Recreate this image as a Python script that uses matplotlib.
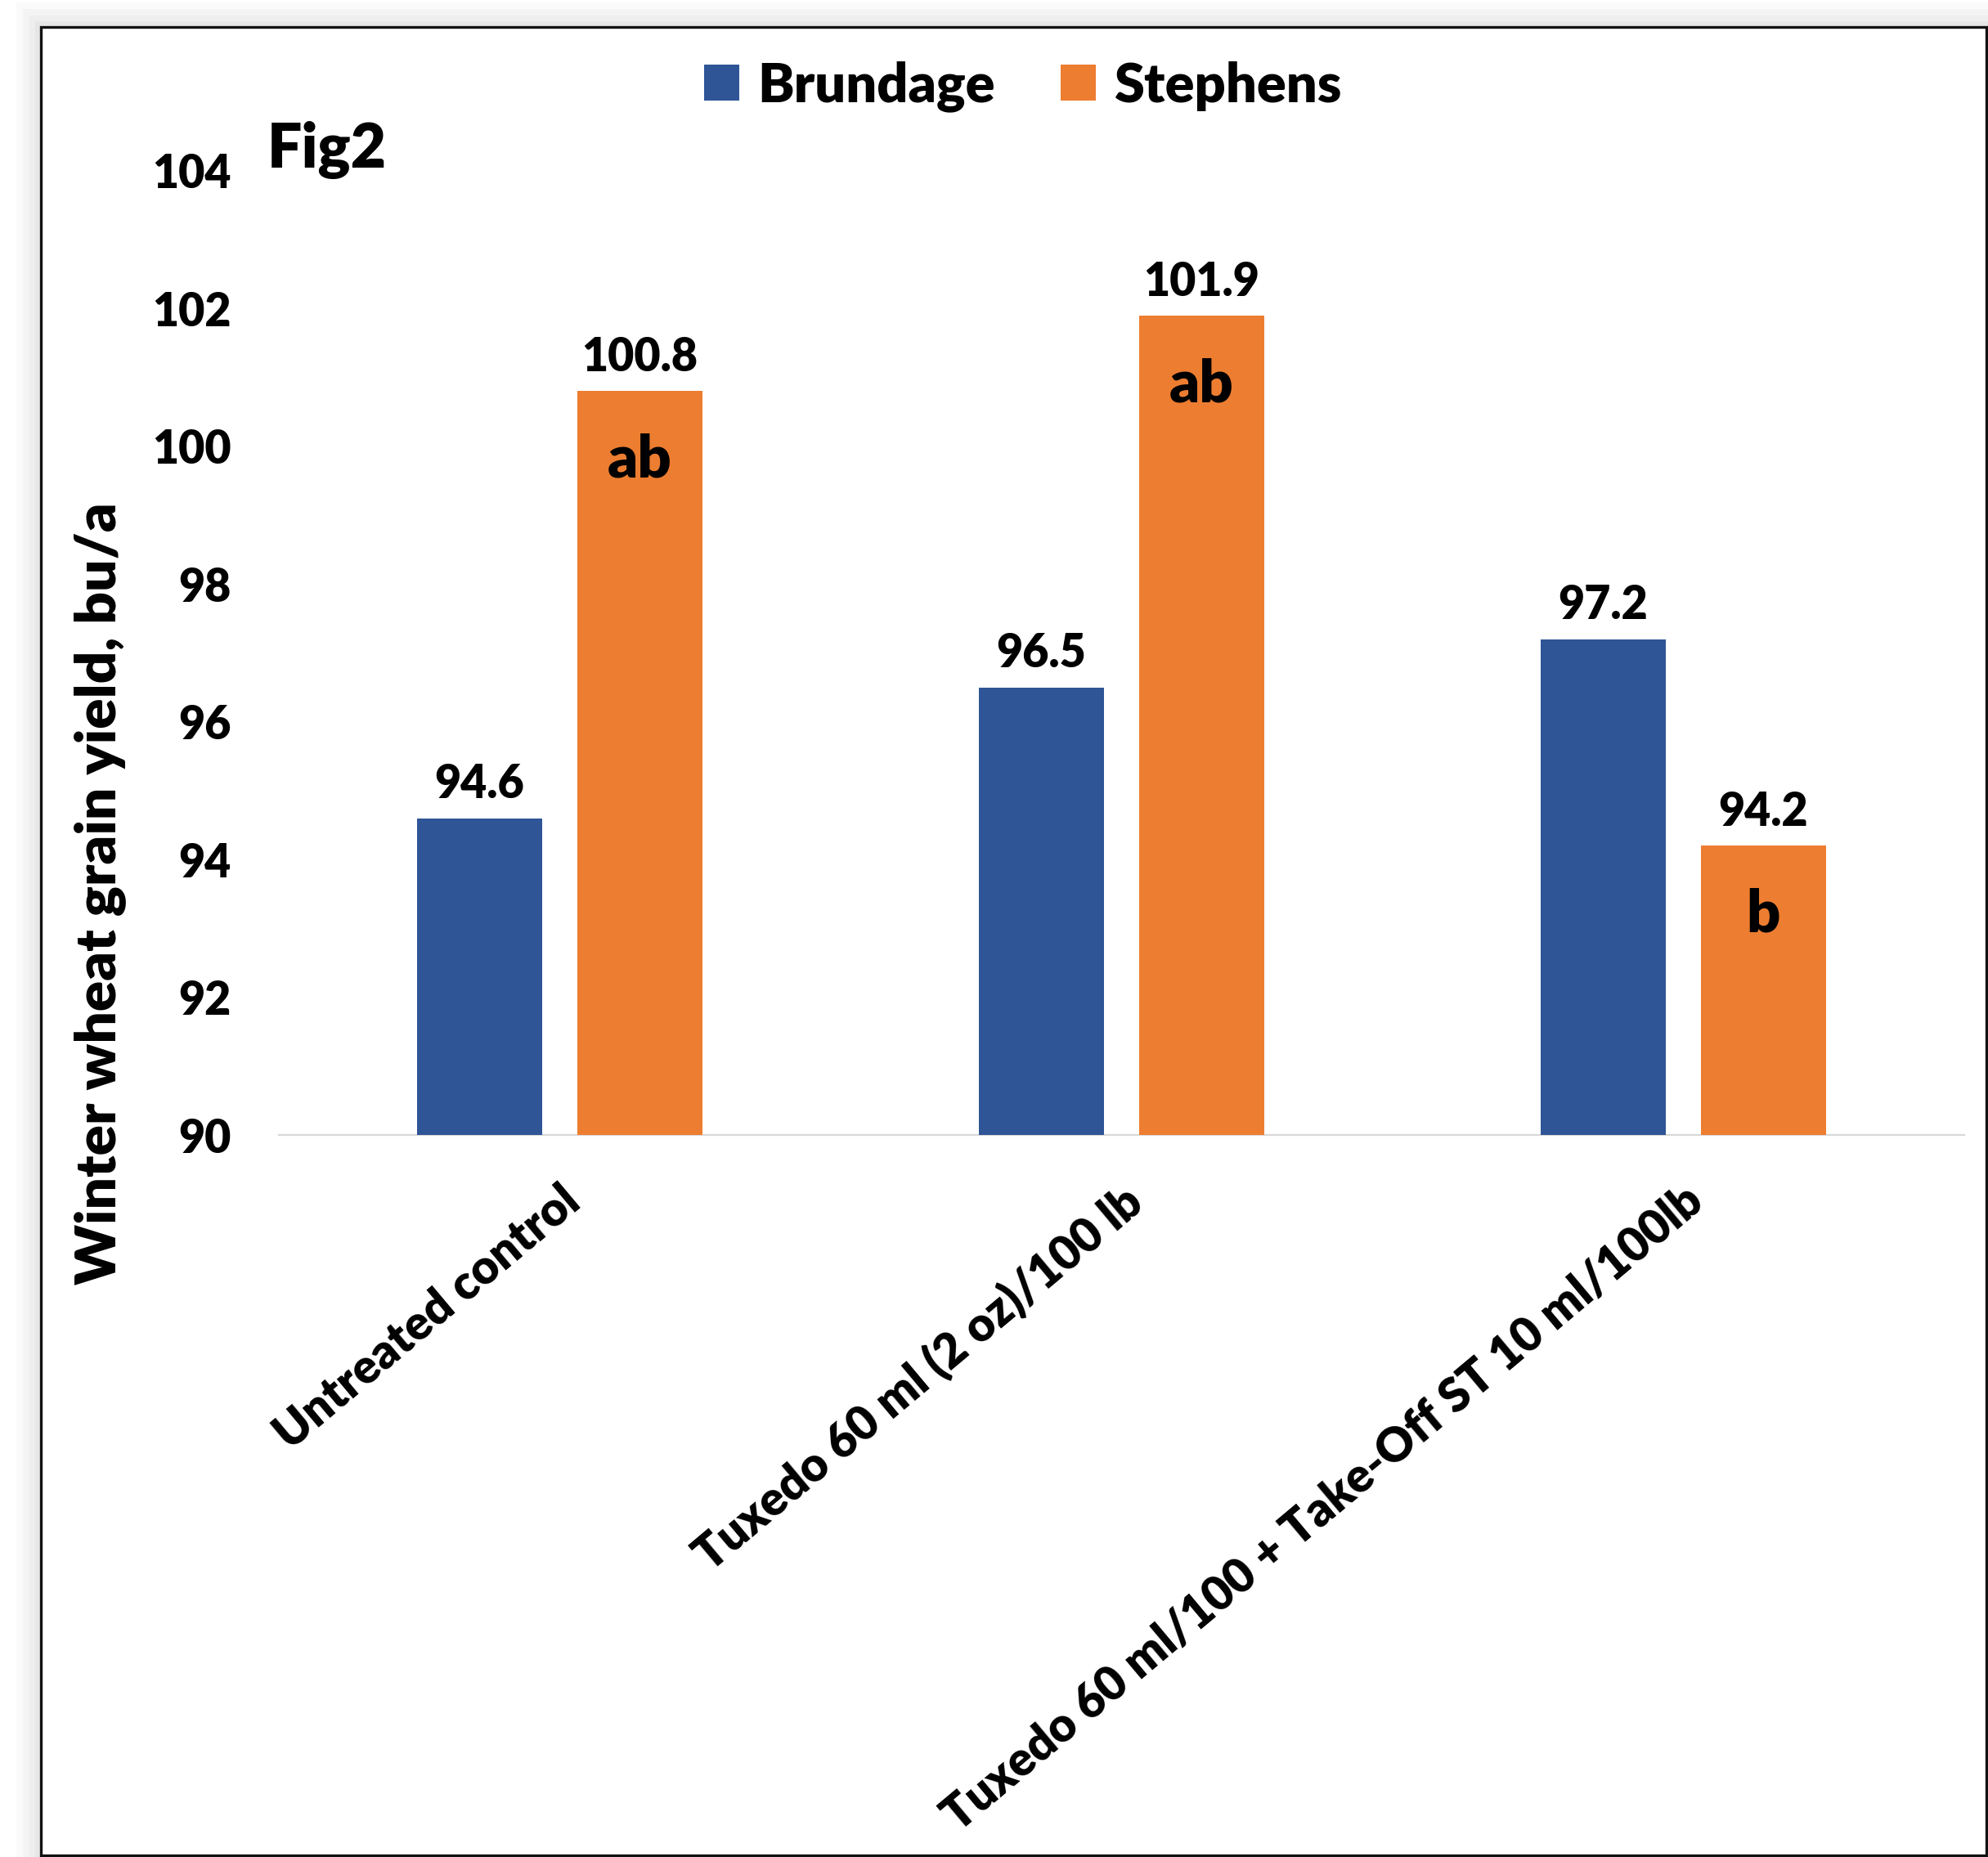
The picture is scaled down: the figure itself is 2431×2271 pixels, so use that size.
import matplotlib
matplotlib.use("Agg")
import matplotlib.pyplot as plt
from matplotlib.patches import Rectangle, Patch
from matplotlib.transforms import ScaledTranslation
import numpy as np

categories = ["Untreated control", "Tuxedo 60 ml (2 oz)/100 lb",
              "Tuxedo 60 ml/100 + Take-Off ST 10 ml/100lb"]
series_names = ["Brundage", "Stephens"]
brundage = [94.6, 96.5, 97.2]
stephens = [100.8, 101.9, 94.2]
stephens_letters = ["ab", "ab", "b"]
yticks = [90, 92, 94, 96, 98, 100, 102, 104]

BLUE = "#2F5597"
ORANGE = "#ED7D31"
FONT = "Lato"
WT = "heavy"

W, H = 2431, 2271
fig = plt.figure(figsize=(W / 100, H / 100), dpi=100)
fig.patch.set_facecolor("white")

def fx(px):
    return px / W

def fy(py):
    return 1 - py / H

# shadow + outer border
for d, c in [(30, "#fafafa"), (22, "#f4f4f4"), (14, "#eeeeee"), (7, "#e6e6e6")]:
    fig.patches.append(Rectangle((fx(50 - d), fy(2300)), fx(2431 + 40 - 50 + d), fy(33 - d) - fy(2300),
                                 transform=fig.transFigure, facecolor=c, edgecolor="none", zorder=0))
fig.patches.append(Rectangle((fx(50), fy(2269)), fx(2429) - fx(50), fy(33) - fy(2269),
                             transform=fig.transFigure, facecolor="white", edgecolor="#111111",
                             linewidth=2.4, zorder=1))

ax = fig.add_axes([fx(341), fy(1388), fx(2402) - fx(341), fy(209) - fy(1388)])
ax.set_zorder(2)
ax.patch.set_alpha(0)

x = np.arange(len(categories))
bw = 0.224
off = 0.1426
b1 = ax.bar(x - off, brundage, width=bw, color=BLUE, label=series_names[0], zorder=3)
b2 = ax.bar(x + off, stephens, width=bw, color=ORANGE, label=series_names[1], zorder=3)

ax.set_ylim(90, 104)
ax.set_xlim(-0.5, 2.5)
ax.set_yticks(yticks)
ax.set_yticklabels([str(v) for v in yticks], fontfamily=FONT, fontweight=WT, fontsize=40)
ax.set_xticks(x)
ax.set_xticklabels(categories, rotation=40, ha="right", rotation_mode="anchor",
                   fontfamily=FONT, fontweight=WT, fontsize=41.5)
shift = ScaledTranslation(-10 / 100, 0, fig.dpi_scale_trans)
for lab in ax.get_xticklabels():
    lab.set_transform(lab.get_transform() + shift)
ax.tick_params(axis="y", length=0, pad=42)
ax.tick_params(axis="x", length=0, pad=38)
for s in ["top", "right", "left"]:
    ax.spines[s].set_visible(False)
ax.spines["bottom"].set_color("#d9d9d9")
ax.spines["bottom"].set_linewidth(1.6)

for rect, v in zip(list(b1) + list(b2), brundage + stephens):
    ax.annotate(f"{v:.1f}", (rect.get_x() + rect.get_width() / 2, v),
                xytext=(0, 11), textcoords="offset points", ha="center", va="bottom",
                fontfamily=FONT, fontweight=WT, fontsize=40, color="black")

for rect, v, lt in zip(b2, stephens, stephens_letters):
    ax.annotate(lt, (rect.get_x() + rect.get_width() / 2, v),
                xytext=(0, -37), textcoords="offset points", ha="center", va="top",
                fontfamily=FONT, fontweight=WT, fontsize=52, color="black")

handles = [Patch(facecolor=BLUE), Patch(facecolor=ORANGE)]
fig.legend(handles, series_names, loc="center", bbox_to_anchor=(fx(1251), fy(106)),
           ncol=2, frameon=False, handlelength=0.64, handleheight=0.64,
           handletextpad=0.34, columnspacing=1.2,
           prop={"family": FONT, "weight": WT, "size": 48})

fig.text(fx(327), fy(205), "Fig2", fontfamily=FONT, fontweight=WT, fontsize=54,
         ha="left", va="baseline")
fig.text(fx(122), fy(1093), "Winter wheat grain yield, bu/a", rotation=90,
         fontfamily=FONT, fontweight=WT, fontsize=50, ha="center", va="center")

fig.savefig("out.png", dpi=100)
